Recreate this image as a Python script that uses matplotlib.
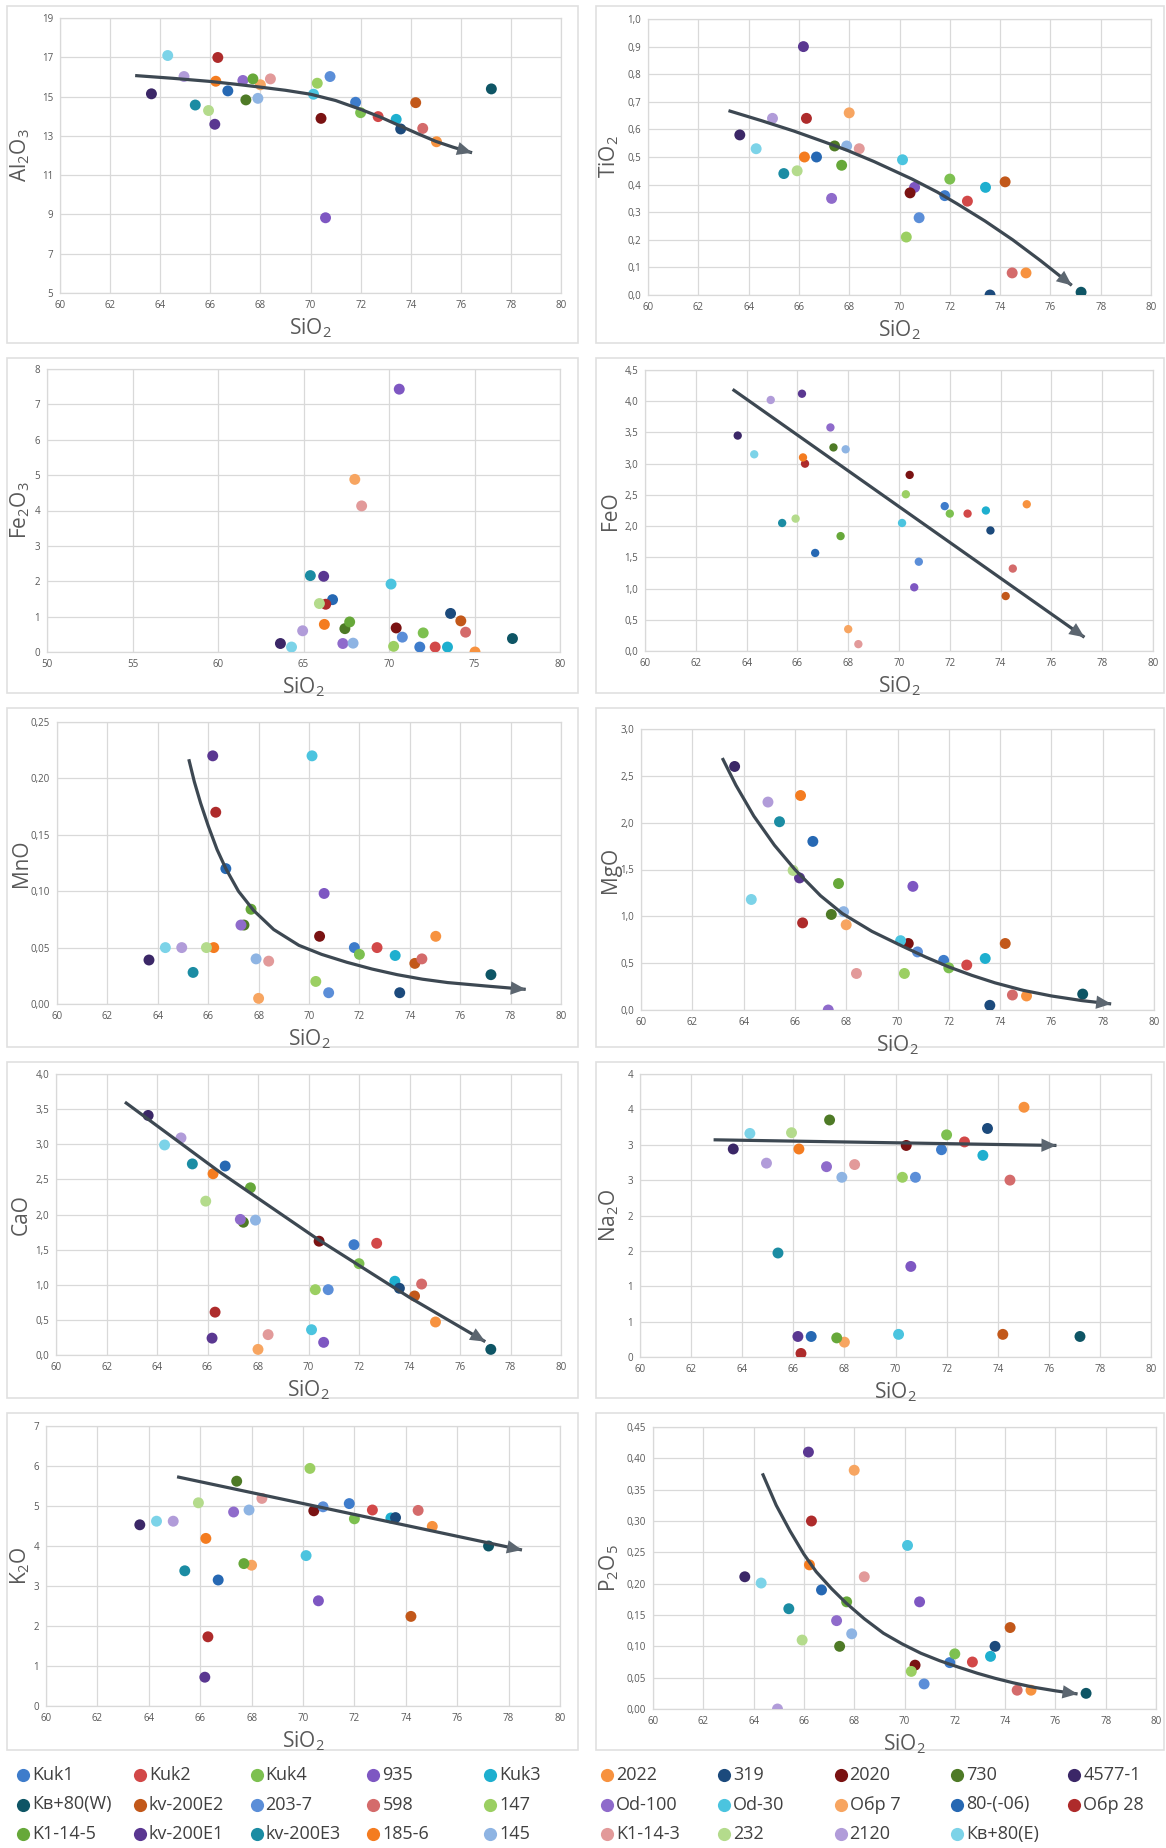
import numpy as np
import matplotlib
matplotlib.use('Agg')
import matplotlib.pyplot as plt
from matplotlib.ticker import FuncFormatter

plt.rcParams['font.family'] = ['Open Sans', 'DejaVu Sans']
plt.rcParams['mathtext.default'] = 'regular'

# samples in legend order
samples = ['Kuk1', 'Kuk2', 'Kuk4', '935', 'Kuk3', '2022', '319', '2020', '730', '4577-1',
           'Кв+80(W)', 'kv-200E2', '203-7', '598', '147', 'Od-100', 'Od-30', 'Обр 7', '80-(-06)', 'Обр 28',
           'K1-14-5', 'kv-200E1', 'kv-200E3', '185-6', '145', 'K1-14-3', '232', '2120', 'Кв+80(E)']
colors = ['#3E7CCB', '#D24848', '#7DC050', '#7E57C2', '#1EAFCF', '#F7923F', '#1C4A7C', '#7A1212', '#4E7A26', '#3B2767',
          '#0E5565', '#C2581A', '#5B8ED8', '#D46B6B', '#9BCF62', '#8F6BCB', '#4BC4DF', '#F7A561', '#2668B3', '#AE2B2B',
          '#67A83A', '#5A3791', '#1B8CA3', '#F47C20', '#8EB4E3', '#E29A9A', '#B4DB8C', '#B19CD9', '#7CD3E8']

sio2 = [71.8, 72.7, 72.0, 70.6, 73.42, 75.03, 73.6, 70.42, 67.42, 63.65,
        77.22, 74.2, 70.78, 74.48, 70.27, 67.3, 70.12, 68.0, 66.7, 66.3,
        67.7, 66.18, 65.4, 66.22, 67.9, 68.4, 65.93, 64.95, 64.3]
al2o3 = [14.71, 13.98, 14.18, 8.83, 13.84, 12.7, 13.35, 13.89, 14.83, 15.14,
         15.39, 14.69, 16.02, 13.38, 15.68, 15.82, 15.12, 15.6, 15.29, 16.99,
         15.9, 13.59, 14.57, 15.78, 14.91, 15.9, 14.29, 16.02, 17.09]
tio2 = [0.36, 0.34, 0.42, 0.39, 0.39, 0.08, 0.0, 0.37, 0.54, 0.58,
        0.01, 0.41, 0.28, 0.08, 0.21, 0.35, 0.49, 0.66, 0.50, 0.64,
        0.47, 0.90, 0.44, 0.50, 0.54, 0.53, 0.45, 0.64, 0.53]
fe2o3 = [0.14, 0.14, 0.54, 7.43, 0.14, 0.0, 1.09, 0.68, 0.66, 0.24,
         0.38, 0.88, 0.42, 0.56, 0.16, 0.24, 1.92, 4.88, 1.48, 1.35,
         0.85, 2.14, 2.16, 0.78, 0.25, 4.13, 1.37, 0.60, 0.14]
feo = [2.32, 2.2, 2.2, 1.02, 2.25, 2.35, 1.93, 2.82, 3.26, 3.45,
       np.nan, 0.88, 1.43, 1.32, 2.51, 3.58, 2.05, 0.35, 1.57, 3.0,
       1.84, 4.12, 2.05, 3.1, 3.23, 0.11, 2.12, 4.02, 3.15]
mno = [0.05, 0.05, 0.044, 0.098, 0.043, 0.06, 0.01, 0.06, 0.07, 0.039,
       0.026, 0.036, 0.01, 0.04, 0.02, 0.07, 0.22, 0.005, 0.12, 0.17,
       0.084, 0.22, 0.028, 0.05, 0.04, 0.038, 0.05, 0.05, 0.05]
mgo = [0.53, 0.48, 0.45, 1.32, 0.55, 0.15, 0.05, 0.71, 1.02, 2.6,
       0.17, 0.71, 0.62, 0.16, 0.39, 0.0, 0.74, 0.91, 1.8, 0.93,
       1.35, 1.41, 2.01, 2.29, 1.05, 0.39, 1.49, 2.22, 1.18]
cao = [1.57, 1.59, 1.3, 0.18, 1.05, 0.47, 0.95, 1.62, 1.89, 3.41,
       0.08, 0.84, 0.93, 1.01, 0.93, 1.93, 0.36, 0.08, 2.69, 0.61,
       2.38, 0.24, 2.72, 2.58, 1.92, 0.29, 2.19, 3.09, 2.99]
na2o = [2.93, 3.04, 3.14, 1.28, 2.85, 3.53, 3.23, 2.99, 3.35, 2.94,
        0.29, 0.32, 2.54, 2.50, 2.54, 2.69, 0.32, 0.21, 0.29, 0.05,
        0.27, 0.29, 1.47, 2.94, 2.54, 2.72, 3.17, 2.74, 3.16]
k2o = [5.06, 4.9, 4.68, 2.63, 4.7, 4.49, 4.71, 4.88, 5.62, 4.53,
       4.0, 2.24, 4.98, 4.89, 5.94, 4.85, 3.76, 3.52, 3.15, 1.73,
       3.56, 0.72, 3.38, 4.19, 4.9, 5.19, 5.08, 4.62, 4.62]
p2o5 = [0.074, 0.075, 0.088, 0.171, 0.084, 0.03, 0.10, 0.07, 0.10, 0.211,
        0.025, 0.13, 0.04, 0.03, 0.06, 0.141, 0.261, 0.381, 0.19, 0.30,
        0.171, 0.41, 0.16, 0.23, 0.12, 0.211, 0.11, 0.0, 0.201]

# hand-drawn trend arrows
tr_al2o3 = ([63.0, 64.5, 66.0, 67.0, 68.0, 69.0, 70.0, 71.0, 72.0, 72.8, 73.5, 74.3, 75.0, 75.7, 76.45],
            [16.07, 15.93, 15.77, 15.63, 15.48, 15.32, 15.12, 14.8, 14.35, 13.95, 13.55, 13.1, 12.72, 12.42, 12.14])
tr_tio2 = ([63.2, 64.5, 65.8, 67.0, 67.9, 69.0, 70.5, 71.5, 72.3, 73.4, 74.5, 75.6, 76.85],
           [0.668, 0.632, 0.594, 0.555, 0.525, 0.483, 0.42, 0.373, 0.33, 0.268, 0.20, 0.125, 0.035])
tr_feo = ([63.45, 77.3], [4.19, 0.22])
tr_mno = ([65.23, 65.45, 65.7, 66.0, 66.35, 66.7, 67.2, 67.8, 68.6, 69.6, 70.5, 71.5, 72.5, 73.5, 74.5, 75.5, 77.0, 78.6],
          [0.217, 0.197, 0.178, 0.158, 0.137, 0.12, 0.1, 0.083, 0.066, 0.052, 0.044, 0.037, 0.031, 0.026, 0.022, 0.019, 0.016, 0.013])
tr_mgo = ([63.17, 63.7, 64.4, 65.2, 66.0, 67.0, 67.85, 69.0, 70.2, 71.1, 72.0, 72.9, 73.8, 74.9, 76.0, 77.2, 78.33],
          [2.69, 2.4, 2.07, 1.76, 1.5, 1.22, 1.03, 0.84, 0.68, 0.565, 0.46, 0.37, 0.29, 0.21, 0.15, 0.1, 0.065])
tr_cao = ([62.73, 66.5, 70.4, 74.0, 77.0], [3.6, 2.6, 1.64, 0.82, 0.19])
tr_na2o = ([62.88, 76.3], [3.07, 2.99])
tr_k2o = ([65.1, 78.52], [5.73, 3.9])
tr_p2o5 = ([64.35, 64.9, 65.45, 66.0, 66.49, 67.1, 67.68, 68.4, 69.16, 69.9, 70.65, 71.4, 72.13, 72.9, 73.6, 74.3, 75.1, 76.0, 76.88],
           [0.376, 0.325, 0.284, 0.247, 0.219, 0.192, 0.169, 0.144, 0.121, 0.104, 0.089, 0.077, 0.067, 0.057, 0.049, 0.042, 0.035, 0.029, 0.024])

W, H = 1166, 1848
fig = plt.figure(figsize=(W / 100, H / 100), dpi=100)

# background layer for panel frames and legend (pixel coordinates)
bg = fig.add_axes([0, 0, 1, 1])
bg.set_xlim(0, W)
bg.set_ylim(H, 0)
bg.axis('off')

panels = [
    dict(y=al2o3, lab='Al$_2$O$_3$', ax=(60, 18, 561, 293), box=(7, 6, 578, 343), xl=(60, 80, 2), yl=(5, 19, 2), d=0, tr=tr_al2o3, s=62),
    dict(y=tio2, lab='TiO$_2$', ax=(648, 19, 1151, 295), box=(596, 6, 1164, 343), xl=(60, 80, 2), yl=(0, 1.0, 0.1), d=1, tr=tr_tio2, s=62),
    dict(y=fe2o3, lab='Fe$_2$O$_3$', ax=(47, 369, 560, 652), box=(7, 358, 578, 693), xl=(50, 80, 5), yl=(0, 8, 1), d=0, tr=None, s=62),
    dict(y=feo, lab='FeO', ax=(645, 370, 1153, 651), box=(596, 358, 1164, 693), xl=(60, 80, 2), yl=(0, 4.5, 0.5), d=1, tr=tr_feo, s=36),
    dict(y=mno, lab='MnO', ax=(57, 722, 561, 1004), box=(7, 708, 578, 1047), xl=(60, 80, 2), yl=(0, 0.25, 0.05), d=2, tr=tr_mno, s=62),
    dict(y=mgo, lab='MgO', ax=(641, 729, 1154, 1010), box=(596, 708, 1164, 1047), xl=(60, 80, 2), yl=(0, 3.0, 0.5), d=1, tr=tr_mgo, s=62),
    dict(y=cao, lab='CaO', ax=(56, 1074, 561, 1355), box=(7, 1062, 578, 1398), xl=(60, 80, 2), yl=(0, 4.0, 0.5), d=1, tr=tr_cao, s=62),
    dict(y=na2o, lab='Na$_2$O', ax=(640, 1074, 1151, 1357), box=(596, 1062, 1164, 1398), xl=(60, 80, 2), yl=(0, 4, 0.5), d='round', tr=tr_na2o, s=62),
    dict(y=k2o, lab='K$_2$O', ax=(46, 1426, 560, 1706), box=(7, 1413, 578, 1750), xl=(60, 80, 2), yl=(0, 7, 1), d=0, tr=tr_k2o, s=62),
    dict(y=p2o5, lab='P$_2$O$_5$', ax=(653, 1427, 1156, 1709), box=(596, 1413, 1164, 1750), xl=(60, 80, 2), yl=(0, 0.45, 0.05), d=2, tr=tr_p2o5, s=62),
]

grid_c = '#D9D9D9'
text_c = '#595959'
arrow_c = '#3D4852'


def make_fmt(d):
    if d == 'round':
        # Excel "0" format: 0.5 steps shown rounded half up
        return FuncFormatter(lambda v, p: str(int(np.floor(v + 0.5 + 1e-9))))
    return FuncFormatter(lambda v, p: f'{v:.{d}f}'.replace('.', ','))


for p in panels:
    bx0, by0, bx1, by1 = p['box']
    bg.add_patch(plt.Rectangle((bx0, by0), bx1 - bx0, by1 - by0, fill=False, ec='#E0E0E0', lw=1.2))

    x0, y0, x1, y1 = p['ax']
    ax = fig.add_axes([x0 / W, 1 - y1 / H, (x1 - x0) / W, (y1 - y0) / H])
    ax.scatter(sio2, p['y'], c=colors, s=p['s'], linewidths=0, zorder=3)

    if p['tr'] is not None:
        tx, ty = p['tr']
        ax.plot(tx, ty, color=arrow_c, lw=2.3, zorder=4, solid_capstyle='butt', solid_joinstyle='round')
        ax.annotate('', xy=(tx[-1], ty[-1]), xytext=(tx[-2], ty[-2]),
                    arrowprops=dict(arrowstyle='-|>,head_length=0.9,head_width=0.4',
                                    color='#5C6670', lw=0, shrinkA=0, shrinkB=0,
                                    mutation_scale=12), zorder=5)

    xa, xb, xs = p['xl']
    ya, yb, ys = p['yl']
    ax.set_xlim(xa, xb)
    ax.set_ylim(ya, yb)
    ax.set_xticks(np.arange(xa, xb + xs / 2, xs))
    ax.set_yticks(np.arange(ya, yb + ys / 2, ys))
    ax.xaxis.set_major_formatter(FuncFormatter(lambda v, q: f'{v:.0f}'))
    ax.yaxis.set_major_formatter(make_fmt(p['d']))
    ax.grid(True, color=grid_c, lw=0.9)
    ax.set_axisbelow(True)
    for sp in ax.spines.values():
        sp.set_color(grid_c)
        sp.set_linewidth(0.9)
    ax.tick_params(length=0, labelsize=7, labelcolor=text_c, pad=5)

    ax.set_xlabel('SiO$_2$', fontsize=15, color=text_c)
    ax.set_ylabel(p['lab'], fontsize=15, color=text_c)
    ax.xaxis.set_label_coords(0.5, -23 / (y1 - y0))
    ax.yaxis.set_label_coords((bx0 + 25 - x0) / (x1 - x0), 0.5)

# legend, 10 columns filled row by row
for i, (name, col) in enumerate(zip(samples, colors)):
    r, c = divmod(i, 10)
    mx = 23 + c * 116.8
    my = 1775 + r * 29.5
    bg.scatter([mx], [my], s=90, color=col, linewidths=0)
    bg.text(mx + 9, my, name, fontsize=13, color='#404040', va='center', ha='left')

fig.savefig('out.png', dpi=100, facecolor='white')
